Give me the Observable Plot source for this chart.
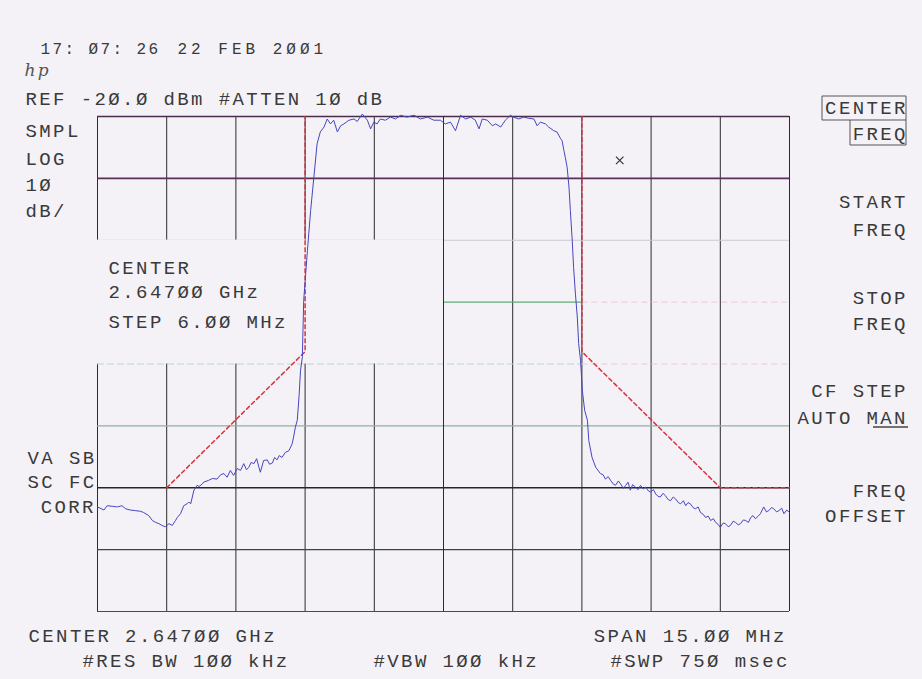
<!DOCTYPE html>
<html>
<head>
<meta charset="utf-8">
<script src="https://cdn.jsdelivr.net/npm/d3@7"></script>
<script src="https://cdn.jsdelivr.net/npm/@observablehq/plot@0.6"></script>
<style>
  html, body { margin: 0; padding: 0; background: #f4f2f7; overflow: hidden; }
  .hp text { letter-spacing: 2.4px; }
</style>
</head>
<body>
<div id="chart"></div>
<script>
// ---- Data (frequency offset from centre in MHz, level in dBm) ----
const centerGHz = 2.647;
const spanMHz = 15;
const refLevel = -20;      // dBm, top of screen
const dbPerDiv = 10;

// grid divisions
const freqDivs = [-7.5, -6, -4.5, -3, -1.5, 0, 1.5, 3, 4.5, 6, 7.5];
const levelDivs = [-20, -30, -40, -50, -60, -70, -80, -90, -100];

// measured trace
const traceFreq = [
  -7.50,-7.36,-7.29,-7.18,-7.07,-6.97,-6.89,-6.79,-6.68,-6.57,-6.50,-6.39,-6.31,-6.24,-6.17,-6.10,-6.03,-5.95,-5.88,-5.81,
  -5.77,-5.70,-5.63,-5.56,-5.52,-5.48,-5.41,-5.34,-5.30,-5.23,-5.20,-5.09,-5.01,-4.91,-4.83,-4.76,-4.69,-4.62,-4.55,-4.47,
  -4.40,-4.33,-4.27,-4.22,-4.17,-4.11,-4.05,-4.00,-3.97,-3.90,-3.82,-3.77,-3.71,-3.66,-3.61,-3.56,-3.50,-3.43,-3.35,-3.28,
  -3.25,-3.21,-3.17,-3.13,-3.10,-3.06,-3.03,-2.99,-2.95,-2.88,-2.81,-2.74,-2.67,-2.59,
  -2.52,-2.45,-2.38,-2.30,-2.23,-2.16,-2.05,-1.94,-1.87,-1.76,-1.65,-1.58,-1.51,-1.44,-1.37,-1.26,-1.15,-1.04,-0.93,-0.79,
  -0.64,-0.50,-0.35,-0.21,-0.07,0.04,0.15,0.26,0.37,0.48,0.59,0.69,0.77,0.84,0.95,1.06,1.13,1.24,1.34,1.45,
  1.52,1.63,1.74,1.85,1.96,2.03,2.10,2.21,2.28,2.39,2.46,2.54,2.57,2.61,2.64,2.68,2.72,2.75,2.79,2.82,
  2.86,2.90,2.93,2.97,3.01,3.06,3.12,3.15,3.22,3.30,3.40,3.46,3.51,3.57,3.62,3.68,3.73,3.79,3.84,3.90,
  3.95,4.00,4.05,4.10,4.16,4.22,4.27,4.33,4.38,4.44,4.49,4.55,4.60,4.65,4.70,4.76,4.81,4.87,4.92,4.98,
  5.03,5.09,5.14,5.20,5.25,5.30,5.35,5.41,5.46,5.52,5.57,5.63,5.68,5.74,5.79,5.85,5.90,5.95,6.00,6.06,
  6.11,6.17,6.22,6.28,6.33,6.39,6.44,6.50,6.55,6.61,6.66,6.71,6.76,6.82,6.87,6.94,7.00,7.05,7.11,7.16,
  7.22,7.27,7.33,7.38,7.44,7.50
];
const traceLevel = [
  -83.1,-83.6,-82.9,-83.0,-83.1,-82.9,-83.4,-83.6,-83.7,-83.8,-84.0,-84.5,-85.3,-85.6,-85.8,-86.1,-86.3,-85.8,-86.1,-85.3,
  -84.8,-84.2,-82.9,-82.6,-82.3,-82.6,-80.4,-79.6,-79.8,-79.4,-79.1,-78.8,-78.5,-78.6,-77.9,-77.7,-78.3,-77.2,-78.0,-76.9,
  -77.2,-76.1,-77.1,-76.7,-75.9,-76.1,-75.3,-76.7,-77.5,-75.6,-75.5,-76.2,-76.0,-75.1,-75.5,-74.8,-75.1,-74.3,-74.0,-72.9,
  -71.8,-70.2,-69.1,-65.1,-61.1,-58.9,-49.7,-45.7,-41.7,-35.2,-29.8,-24.4,-22.5,-21.7,
  -20.4,-21.2,-20.6,-22.5,-21.5,-21.2,-20.6,-20.4,-20.8,-19.6,-20.6,-22.0,-20.9,-21.2,-20.4,-20.6,-20.1,-20.4,-19.8,-20.1,
  -19.8,-20.4,-20.1,-20.6,-20.6,-21.2,-20.9,-22.3,-19.8,-20.4,-20.1,-20.6,-22.0,-20.4,-20.6,-21.5,-21.2,-21.7,-20.6,-19.8,
  -20.1,-20.4,-20.1,-20.3,-20.4,-21.5,-20.9,-21.2,-21.7,-22.3,-22.5,-23.6,-23.9,-25.5,-26.6,-28.2,-31.4,-35.2,-40.0,-44.4,
  -48.7,-52.4,-56.7,-59.4,-64.3,-67.5,-69.1,-72.4,-75.1,-76.7,-77.7,-77.9,-78.6,-78.2,-78.8,-79.4,-79.6,-78.9,-79.4,-80.1,
  -79.6,-79.1,-80.4,-79.5,-79.9,-80.3,-79.6,-80.2,-79.9,-80.5,-80.7,-80.3,-81.0,-81.4,-81.5,-80.9,-81.3,-81.9,-82.1,-81.5,
  -81.8,-82.4,-82.6,-82.1,-82.9,-82.4,-82.6,-83.2,-83.4,-83.1,-84.0,-84.3,-84.8,-84.6,-85.3,-85.0,-85.6,-85.9,-86.4,-85.7,
  -85.8,-86.3,-86.1,-85.4,-85.6,-86.0,-85.8,-85.2,-85.3,-85.6,-84.8,-84.5,-85.0,-84.6,-84.2,-83.1,-83.9,-83.7,-83.2,-83.4,
  -83.9,-83.7,-83.3,-84.2,-83.6,-84.0
];

// spectrum emission mask (red dashed limit line), lower and upper arms
const maskLowFreq   = [-6, -3, -3];
const maskLowLevel  = [-80, -58, -20];
const maskHighFreq  = [3, 3, 6, 7.5];
const maskHighLevel = [-20, -58, -80, -80];

// marker
const markerFreq = [3.82];
const markerLevel = [-27.1];

// annotation box (grid cells hidden behind the CENTER/STEP readout)
const boxFreq = [-7.5, 0];
const boxLevel = [-60, -40];

// text
const timeStamp = "17: Ø7: 26";
const dateStamp = "22 FEB 2ØØ1";
const refLine = "REF -2Ø.Ø dBm #ATTEN 1Ø dB";
const leftLabels = ["SMPL", "LOG", "1Ø", "dB/"];
const corrLabels = ["VA SB", "SC FC", "CORR"];
const boxLabels = ["CENTER", "2.647ØØ GHz", "STEP 6.ØØ MHz"];
const softKeys = [["CENTER", "FREQ"], ["START", "FREQ"], ["STOP", "FREQ"], ["CF STEP", "AUTO MAN"], ["FREQ", "OFFSET"]];
const bottomLeft = ["CENTER 2.647ØØ GHz", "#RES BW 1ØØ kHz"];
const bottomMid = "#VBW 1ØØ kHz";
const bottomRight = ["SPAN 15.ØØ MHz", "#SWP 75Ø msec"];

// ---- styles ----
const BG = "#f4f2f7";
const TXT = "#3a3a3a";
const gridColor = {
  "-20": "#4a2d4c", "-30": "#5a2f58", "-40": "#c9c8d0", "-50": "#c9c8d0",
  "-60": "#b9d3cf", "-70": "#8fb0a0", "-80": "#262626", "-90": "#2f4a4a", "-100": "#4e4466"
};

const toPts = (fs, ls) => fs.map((f, i) => ({f, l: ls[i]}));
const trace = toPts(traceFreq, traceLevel);
const maskLow = toPts(maskLowFreq, maskLowLevel);
const maskHigh = toPts(maskHighFreq, maskHighLevel);
const marker = toPts(markerFreq, markerLevel);

const ML = 97, MT = 116;
function label(s, px, py, opts = {}) {
  return Plot.text([s], {
    text: d => d, frameAnchor: "top-left", dx: px - ML, dy: py - MT,
    textAnchor: "start", lineAnchor: "middle", fontSize: 19, fill: TXT,
    fontFamily: "Liberation Mono, DejaVu Sans Mono, monospace", ...opts
  });
}
function rlabel(s, px, py, opts = {}) {
  return label(s, px + 2.4, py, {textAnchor: "end", ...opts});
}

const hLevels = levelDivs.filter(l => l !== -50 && l !== -60);

const marks = [
  // vertical graticule
  Plot.ruleX(freqDivs, {x: d => d, y1: -100, y2: -20, stroke: "#2b2b2b", strokeWidth: 1}),
  // horizontal graticule
  Plot.ruleY(hLevels, {y: d => d, x1: -7.5, x2: 7.5, stroke: d => gridColor[d], strokeWidth: d => (d === -20 || d === -30 || d === -80) ? 1.6 : 1.1,
    strokeDasharray: d => d === -100 ? "6,3" : null}),
  Plot.ruleY([-50], {y: d => d, x1: 0, x2: 3, stroke: "#5fae78", strokeWidth: 1.2}),
  Plot.ruleY([-50], {y: d => d, x1: 3, x2: 7.5, stroke: "#ecc9d8", strokeWidth: 1, strokeDasharray: "6,4"}),
  // readout box hides grid
  Plot.rect([0], {x1: boxFreq[0], x2: boxFreq[1], y1: boxLevel[0], y2: boxLevel[1], fill: BG, inset: 0}),
  Plot.ruleY([-60], {y: d => d, x1: -7.5, x2: 3, stroke: "#b9d6d0", strokeWidth: 1, strokeDasharray: "7,3"}),
  Plot.ruleY([-60], {y: d => d, x1: 3, x2: 7.5, stroke: "#ecc9d8", strokeWidth: 1, strokeDasharray: "6,4"}),
  Plot.ruleX([0], {x: d => d, y1: -100, y2: -20, stroke: "#2b2b2b", strokeWidth: 1}),
  // mask
  Plot.line(maskLow, {x: "f", y: "l", stroke: "#d9323f", strokeWidth: 1.5, strokeDasharray: "4,3"}),
  Plot.line(maskHigh, {x: "f", y: "l", stroke: "#d9323f", strokeWidth: 1.5, strokeDasharray: "4,3"}),
  // trace
  Plot.line(trace, {x: "f", y: "l", stroke: "#4646bf", strokeWidth: 1, curve: "linear"}),
  // marker
  Plot.dot(marker, {x: "f", y: "l", symbol: "times", r: 3.5, stroke: "#333", strokeWidth: 1.2}),

  // header
  label(timeStamp, 40, 48, {fontSize: 16}),
  label(dateStamp, 177, 48, {fontSize: 16}),
  label("hp", 24, 70, {fontSize: 17, fontStyle: "italic", fontFamily: "DejaVu Serif", fill: "#555"}),
  label(refLine, 25, 98),
  ...leftLabels.map((s, i) => label(s, 25, [130, 158, 184, 210][i])),
  label(corrLabels[0], 27, 457),
  label(corrLabels[1], 27, 481),
  rlabel(corrLabels[2], 93, 506),
  ...boxLabels.map((s, i) => label(s, 108, [267, 291, 321][i])),
  // softkeys
  ...softKeys.flatMap((pair, i) => {
    const ys = [[107, 133], [201, 229], [297, 323], [390, 417], [490, 515]][i];
    return [rlabel(pair[0], 905, ys[0]), rlabel(pair[1], 905, ys[1])];
  }),
  // footer
  label(bottomLeft[0], 28, 635),
  label(bottomLeft[1], 82, 660),
  label(bottomMid, 373, 660),
  rlabel(bottomRight[0], 784, 635),
  rlabel(bottomRight[1], 787, 660)
];

const chart = Plot.plot({
  width: 922,
  height: 679,
  marginLeft: 97,
  marginRight: 133,
  marginTop: 116,
  marginBottom: 68,
  className: "hp",
  style: {background: BG, overflow: "visible"},
  x: {domain: [-spanMHz / 2, spanMHz / 2], axis: null},
  y: {domain: [refLevel - 8 * dbPerDiv, refLevel], axis: null},
  marks
});
document.getElementById("chart").appendChild(chart);

const svg = d3.select(chart);
// wider plotter spacing on the date
svg.selectAll("text").filter(function () { return this.textContent === dateStamp; })
  .style("letter-spacing", "4px");
// softkey highlight frame and underline (decoration)
svg.append("path")
  .attr("d", "M822,96 H906 V145 H850 V120 H822 Z M850,120 H906")
  .attr("fill", "none").attr("stroke", "#555").attr("stroke-width", 1);
svg.append("line").attr("x1", 873).attr("x2", 908).attr("y1", 427).attr("y2", 427)
  .attr("stroke", "#444").attr("stroke-width", 1.5);
</script>
</body>
</html>
